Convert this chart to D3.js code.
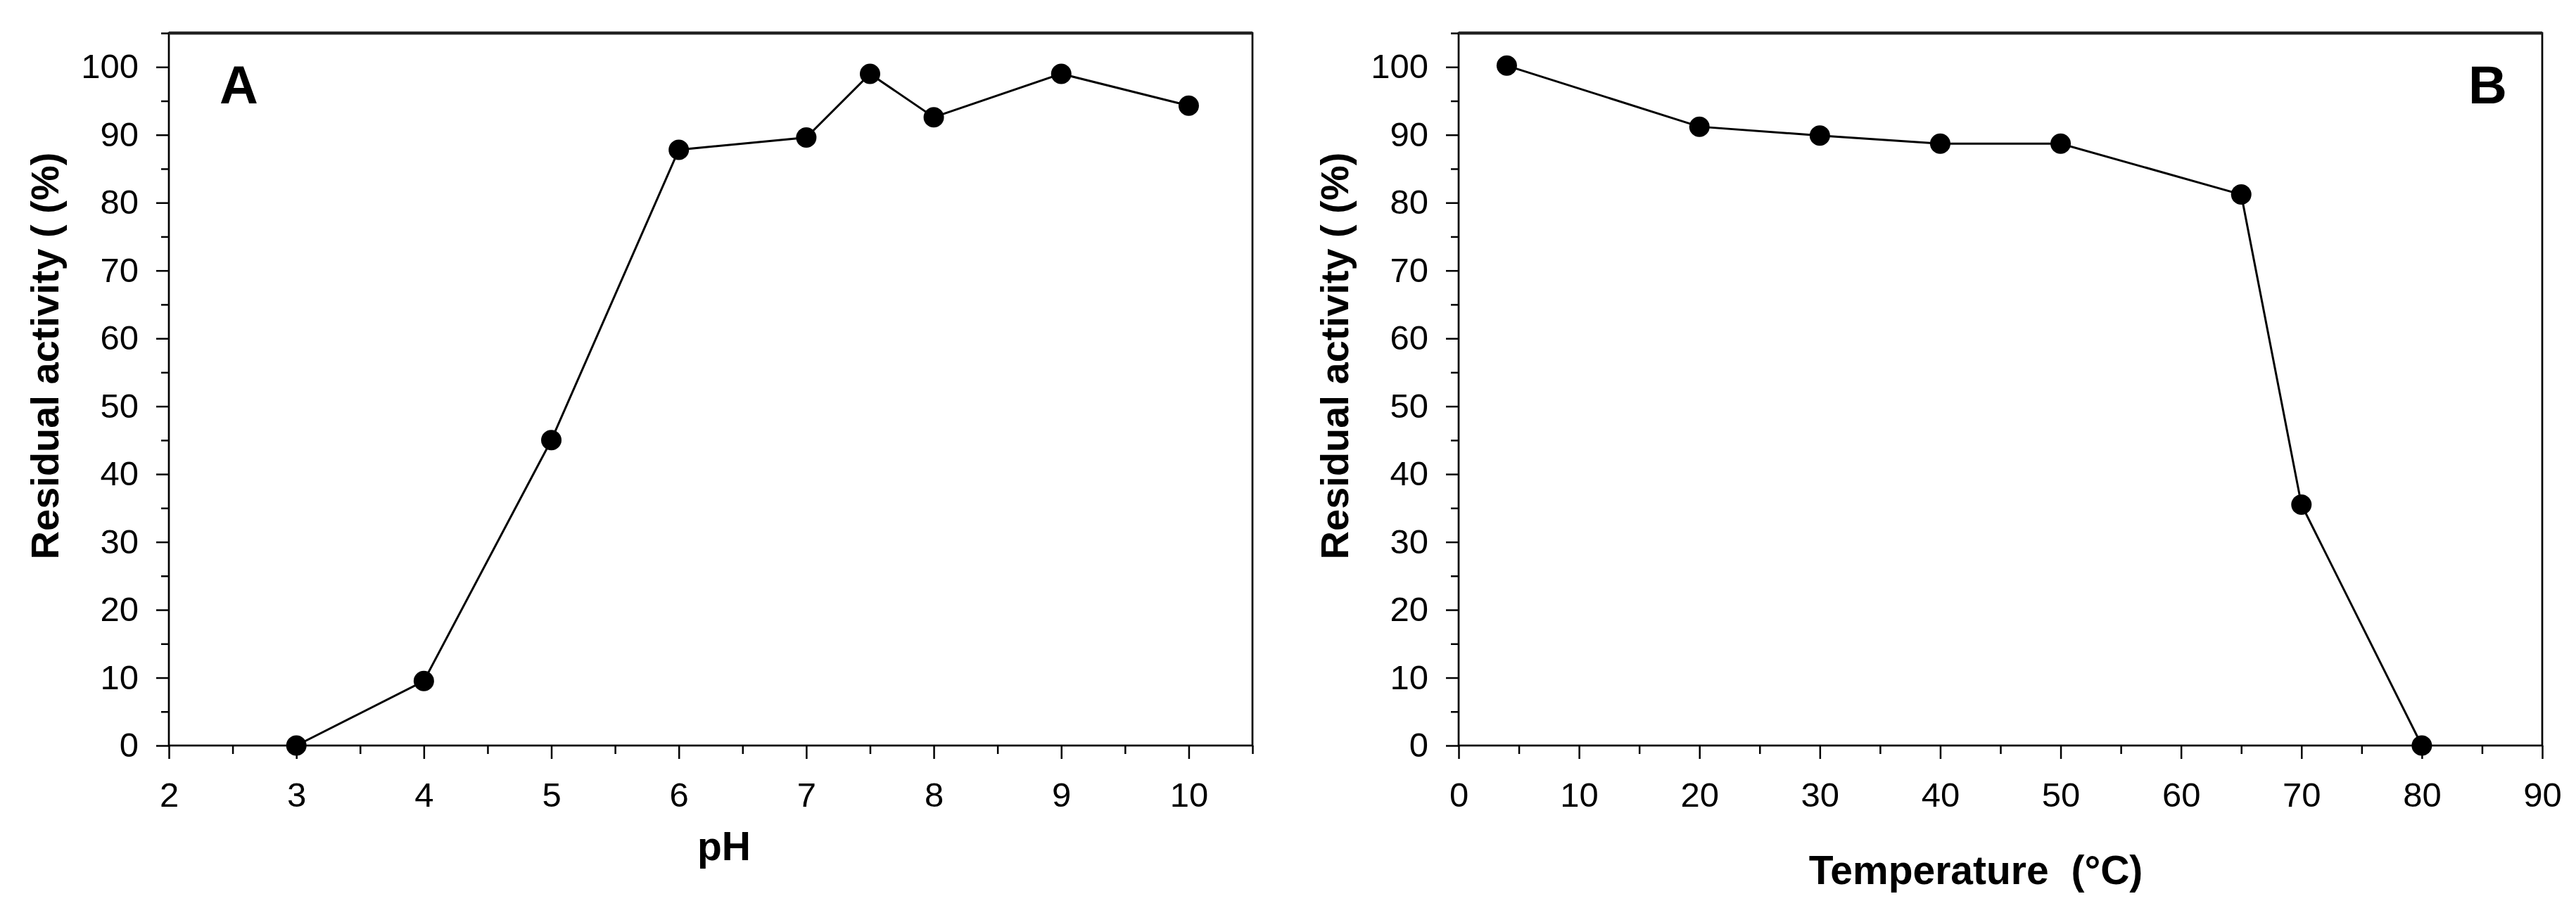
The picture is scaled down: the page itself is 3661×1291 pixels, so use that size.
<!DOCTYPE html>
<html>
<head>
<meta charset="utf-8">
<script src="https://cdn.jsdelivr.net/npm/d3@7"></script>
<style>
  body { margin: 0; background: #fff; }
  text { font-family: "Liberation Sans", Arial, sans-serif; fill: #000; }
  .tick text { font-family: "Liberation Sans Narrow", "Arial Narrow", "Liberation Sans", sans-serif; }
</style>
</head>
<body>
<div id="content"></div>
<script>
const width = 3661;
const height = 1291;

// panel A: pH stability
const phValues = [3, 4, 5, 6, 7, 7.5, 8, 9, 10];
const phActivity = [0, 9.5, 45, 87.8, 89.6, 99, 92.6, 99, 94.3];
const phTicks = [2, 3, 4, 5, 6, 7, 8, 9, 10];

// panel B: thermal stability
const tempValues = [4, 20, 30, 40, 50, 65, 70, 80];
const tempActivity = [100.2, 91.2, 89.9, 88.7, 88.7, 81.2, 35.5, 0];
const tempTicks = [0, 10, 20, 30, 40, 50, 60, 70, 80, 90];

const yTicks = [0, 10, 20, 30, 40, 50, 60, 70, 80, 90, 100];
const yMinor = [5, 15, 25, 35, 45, 55, 65, 75, 85, 95, 105];

const plotTop = 47;
const plotBottom = 1060;
const plotW = 1540;

const fig = d3.select('#content')
    .append('svg')
    .attr('width', width)
    .attr('height', height);

fig.append('rect')
    .attr('width', width)
    .attr('height', height)
    .attr('fill', '#fff');

const y = d3.scaleLinear().domain([0, 105]).range([plotBottom, plotTop]);

function panel(opts) {
    const x = d3.scaleLinear().domain(opts.domain).range([opts.left, opts.left + plotW]);
    const g = fig.append('g');

    // minor ticks first
    g.append('g')
        .attr('transform', `translate(0,${plotBottom})`)
        .call(d3.axisBottom(x).tickValues(opts.minor).tickSize(12).tickFormat(''))
        .call(a => a.select('.domain').remove())
        .selectAll('line').attr('stroke-width', 2.5);

    g.append('g')
        .attr('transform', `translate(${opts.left},0)`)
        .call(d3.axisLeft(y).tickValues(yMinor).tickSize(11).tickFormat(''))
        .call(a => a.select('.domain').remove())
        .selectAll('line').attr('stroke-width', 2.5);

    // major ticks
    const xa = g.append('g')
        .attr('transform', `translate(0,${plotBottom})`)
        .call(d3.axisBottom(x).tickValues(opts.ticks).tickSize(19).tickPadding(33));
    xa.select('.domain').remove();
    xa.selectAll('line').attr('stroke-width', 2.5);
    xa.selectAll('text').attr('font-size', 49).attr('font-family', null);

    const ya = g.append('g')
        .attr('transform', `translate(${opts.left},0)`)
        .call(d3.axisLeft(y).tickValues(yTicks).tickSize(18).tickPadding(25));
    ya.select('.domain').remove();
    ya.selectAll('line').attr('stroke-width', 2.5);
    ya.selectAll('text').attr('font-size', 49).attr('font-family', null);

    // frame
    g.append('rect')
        .attr('x', opts.left)
        .attr('y', plotTop)
        .attr('width', plotW)
        .attr('height', plotBottom - plotTop)
        .attr('fill', 'none')
        .attr('stroke', '#000')
        .attr('stroke-width', 2.7);
    g.append('line')
        .attr('x1', opts.left).attr('x2', opts.left + plotW)
        .attr('y1', plotTop).attr('y2', plotTop)
        .attr('stroke', '#222')
        .attr('stroke-width', 4.5);

    const pts = opts.xs.map((v, i) => ({x: v, y: opts.ys[i]}));

    g.append('path')
        .datum(pts)
        .attr('fill', 'none')
        .attr('stroke', '#000')
        .attr('stroke-width', 3)
        .attr('d', d3.line().x(d => x(d.x)).y(d => y(d.y)));

    g.append('g')
        .selectAll('circle')
        .data(pts)
        .join('circle')
        .attr('cx', d => x(d.x))
        .attr('cy', d => y(d.y))
        .attr('r', 14.5)
        .attr('fill', '#000');

    g.append('text')
        .attr('transform', `translate(${opts.left - 157},506) rotate(-90)`)
        .attr('text-anchor', 'middle')
        .attr('font-size', 56)
        .attr('font-weight', 'bold')
        .text('Residual activity ( (%)');

    g.append('text')
        .attr('x', opts.titleX)
        .attr('y', opts.titleY)
        .attr('text-anchor', 'middle')
        .attr('font-size', 57)
        .attr('font-weight', 'bold')
        .style('white-space', 'pre')
        .text(opts.title);

    g.append('text')
        .attr('x', opts.letterX)
        .attr('y', 147)
        .attr('font-size', 76)
        .attr('font-weight', 'bold')
        .text(opts.letter);
}

panel({
    left: 240,
    domain: [2, 10.5],
    ticks: phTicks,
    minor: d3.range(2.5, 10.6, 1),
    xs: phValues,
    ys: phActivity,
    title: 'pH',
    titleX: 1029,
    titleY: 1223,
    letter: 'A',
    letterX: 312
});

panel({
    left: 2073,
    domain: [0, 90],
    ticks: tempTicks,
    minor: d3.range(5, 90, 10),
    xs: tempValues,
    ys: tempActivity,
    title: 'Temperature  (°C)',
    titleX: 2808,
    titleY: 1257,
    letter: 'B',
    letterX: 3508
});
</script>
</body>
</html>
